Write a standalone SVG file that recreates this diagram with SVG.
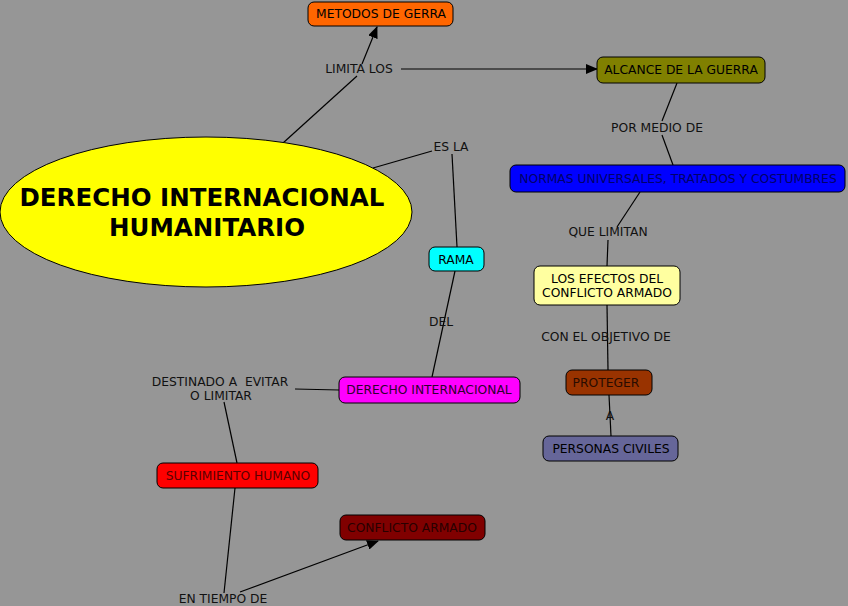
<svg xmlns="http://www.w3.org/2000/svg" width="848" height="606" viewBox="0 0 848 606">
<defs>
<style>
.n{stroke:#000;stroke-width:1}
.t{font-family:"DejaVu Sans",Verdana,sans-serif;font-size:12.3px;fill:#000;text-anchor:middle}
.l{font-family:"DejaVu Sans",Verdana,sans-serif;font-size:12.3px;fill:#111;text-anchor:middle}
.c{stroke:#000;stroke-width:1.2;fill:none}
</style>
<marker id="ah" markerWidth="12" markerHeight="10" refX="11" refY="5" orient="auto" markerUnits="userSpaceOnUse">
<path d="M0,0 L12,5 L0,10 Z" fill="#000"/>
</marker>
</defs>
<rect x="0" y="0" width="848" height="606" fill="#969696"/>
<g id="connectors">
<line class="c" x1="283" y1="143" x2="357" y2="76"/>
<line class="c" x1="362" y1="64" x2="377" y2="27" marker-end="url(#ah)"/>
<line class="c" x1="401" y1="69" x2="597" y2="69" marker-end="url(#ah)"/>
<line class="c" x1="373" y1="168" x2="432" y2="151"/>
<line class="c" x1="452" y1="154" x2="457" y2="247"/>
<line class="c" x1="455" y1="271" x2="432" y2="377"/>
<line class="c" x1="677" y1="83" x2="662" y2="121"/>
<line class="c" x1="662" y1="135" x2="673" y2="165"/>
<line class="c" x1="640" y1="192" x2="617" y2="227"/>
<line class="c" x1="608" y1="240" x2="607" y2="266"/>
<line class="c" x1="607" y1="305" x2="608" y2="370"/>
<line class="c" x1="609" y1="395" x2="611" y2="436"/>
<line class="c" x1="295" y1="389" x2="339" y2="390"/>
<line class="c" x1="224" y1="402" x2="237" y2="463"/>
<line class="c" x1="235" y1="488" x2="224" y2="593"/>
<line class="c" x1="240" y1="592" x2="378" y2="541" marker-end="url(#ah)"/>
</g>
<g id="linking-phrases">
<text class="l" x="359" y="73">LIMITA LOS</text>
<text class="l" x="451" y="151">ES LA</text>
<text class="l" x="657" y="132">POR MEDIO DE</text>
<text class="l" x="608" y="236">QUE LIMITAN</text>
<text class="l" x="441" y="326">DEL</text>
<text class="l" x="606" y="341">CON EL OBJETIVO DE</text>
<text class="l" x="610" y="420">A</text>
<text class="l" x="220" y="386" xml:space="preserve">DESTINADO A  EVITAR</text>
<text class="l" x="221" y="400">O LIMITAR</text>
<text class="l" x="223" y="603">EN TIEMPO DE</text>
</g>
<g id="dih">
<ellipse class="n" cx="206" cy="212" rx="206" ry="75" fill="#ffff00"/>
<text x="202" y="206" font-family="'DejaVu Sans',Verdana,sans-serif" font-size="24.5" font-weight="bold" text-anchor="middle" fill="#000">DERECHO INTERNACIONAL</text>
<text x="207" y="236" font-family="'DejaVu Sans',Verdana,sans-serif" font-size="24.5" font-weight="bold" text-anchor="middle" fill="#000">HUMANITARIO</text>
</g>
<g id="metodos">
<rect class="n" x="308" y="2" width="145" height="24" rx="6" fill="#ff6600"/>
<text class="t" x="381" y="18">METODOS DE GERRA</text>
</g>
<g id="alcance">
<rect class="n" x="597" y="57" width="168" height="26" rx="6" fill="#808000"/>
<text class="t" x="681" y="74">ALCANCE DE LA GUERRA</text>
</g>
<g id="normas">
<rect class="n" x="510" y="165" width="335" height="27" rx="6" fill="#0000ff"/>
<text class="t" x="678" y="183" style="fill:#00006a">NORMAS UNIVERSALES, TRATADOS Y COSTUMBRES</text>
</g>
<g id="rama">
<rect class="n" x="429" y="247" width="55" height="24" rx="6" fill="#00ffff"/>
<text class="t" x="456" y="264">RAMA</text>
</g>
<g id="efectos">
<rect class="n" x="534" y="266" width="146" height="39" rx="6" fill="#ffffa0"/>
<text class="t" x="607" y="283">LOS EFECTOS DEL</text>
<text class="t" x="607" y="297">CONFLICTO ARMADO</text>
</g>
<g id="derecho-internacional">
<rect class="n" x="339" y="377" width="181" height="26" rx="6" fill="#ff00ff"/>
<text class="t" x="429" y="394" style="fill:#300030">DERECHO INTERNACIONAL</text>
</g>
<g id="proteger">
<rect class="n" x="566" y="370" width="86" height="25" rx="6" fill="#993300"/>
<text class="t" x="606" y="387" style="fill:#2a0c00">PROTEGER</text>
</g>
<g id="personas">
<rect class="n" x="543" y="436" width="135" height="25" rx="6" fill="#666699"/>
<text class="t" x="611" y="453">PERSONAS CIVILES</text>
</g>
<g id="sufrimiento">
<rect class="n" x="157" y="463" width="161" height="25" rx="6" fill="#ff0000"/>
<text class="t" x="238" y="480" style="fill:#5a0000">SUFRIMIENTO HUMANO</text>
</g>
<g id="conflicto">
<rect class="n" x="340" y="515" width="145" height="25" rx="6" fill="#800000"/>
<text class="t" x="412" y="532" style="fill:#280000">CONFLICTO ARMADO</text>
</g>
</svg>
